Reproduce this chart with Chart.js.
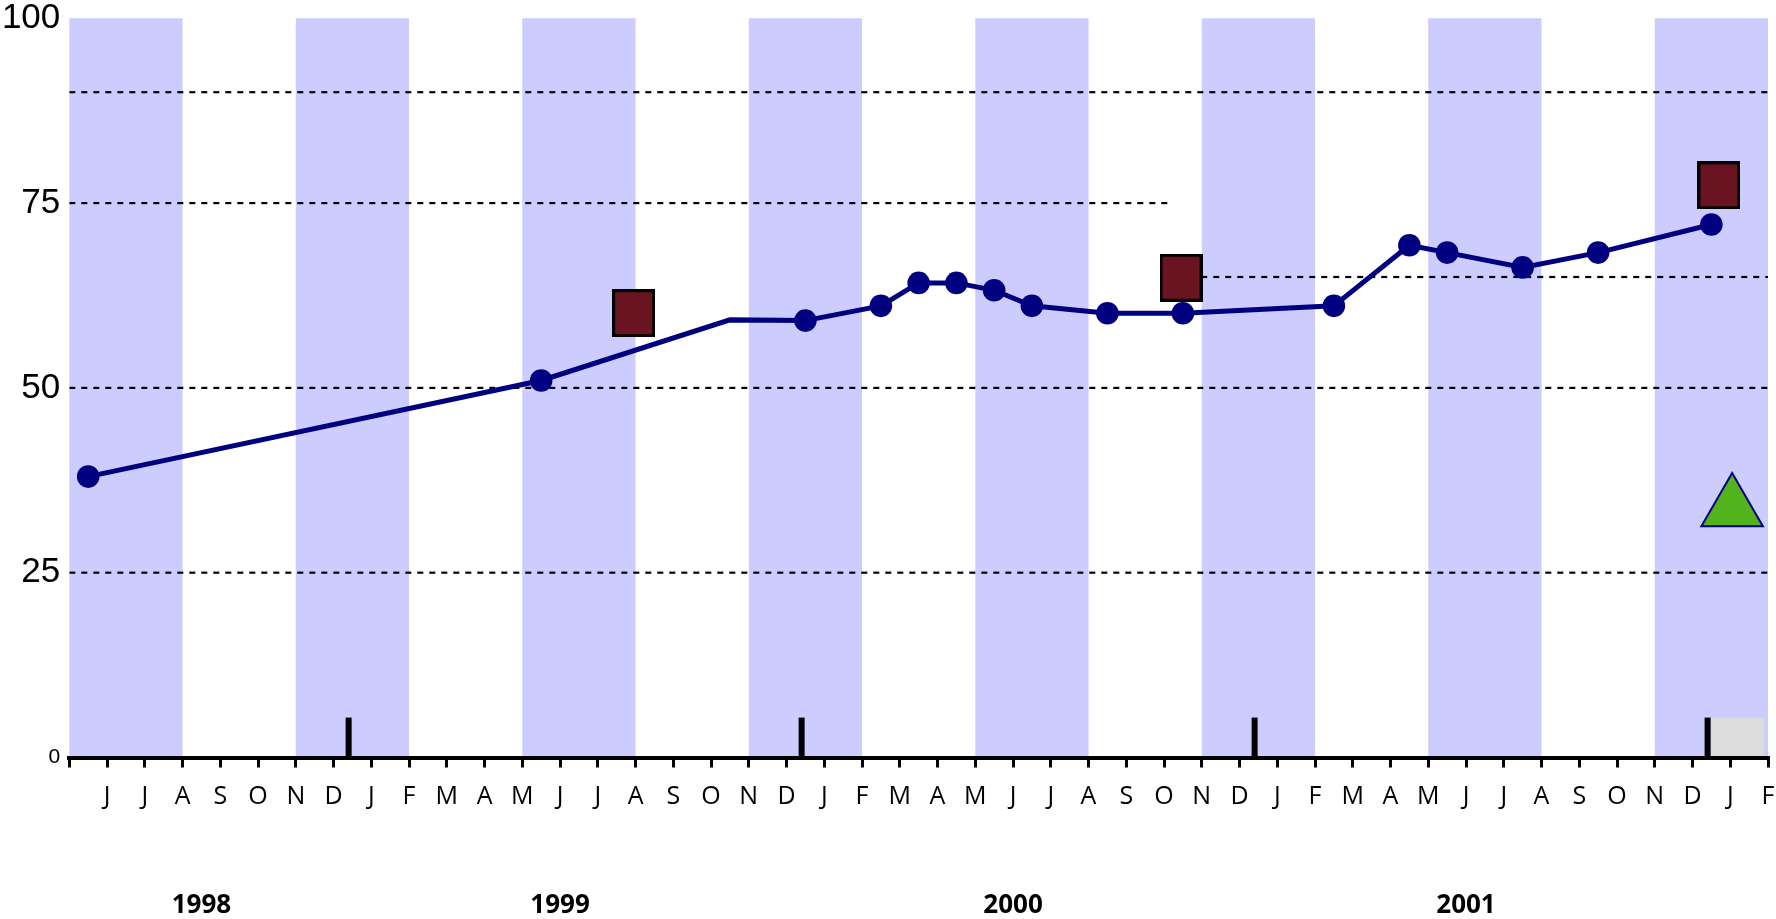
<!DOCTYPE html>
<html><head><meta charset="utf-8">
<script src="https://cdn.jsdelivr.net/npm/chart.js@4/dist/chart.umd.min.js"></script>
<style>html,body{margin:0;padding:0;background:#fff;overflow:hidden}</style>
</head><body>
<canvas id="c" width="1776" height="919"></canvas>
<script>
// ---- data ----
const monthLabels = ['', 'J','J','A','S','O','N','D',
  'J','F','M','A','M','J','J','A','S','O','N','D',
  'J','F','M','A','M','J','J','A','S','O','N','D',
  'J','F','M','A','M','J','J','A','S','O','N','D',
  'J','F'];
const yearLabels = ['1998','1999','2000','2001'];
const yearPositions = [3.5, 13, 25, 37];
const seriesX = [0.5, 12.5, 17.5, 19.5, 21.5, 22.5, 23.5, 24.5, 25.5, 27.5, 29.5, 33.5, 35.5, 36.5, 38.5, 40.5, 43.5];
const seriesY = [38, 51, 59.2, 59.1, 61.1, 64.2, 64.2, 63.2, 61.1, 60.1, 60.1, 61.1, 69.3, 68.3, 66.3, 68.3, 72.1];
const squareX = [14.95, 29.45, 43.7];
const squareY = [60.1, 64.9, 77.4];
const triangleX = [44.05];
const triangleY = [33.7];
const shadedBands = [[0,3],[6,9],[12,15],[18,21],[24,27],[30,33],[36,39],[42,45]];
const markerBarX = [7.4, 19.4, 31.4, 43.4];
const markerBarTop = 5.4;
const greyBlock = [43.5, 44.9];
const greyBlockTop = 5.4;
const refLevelsFull = [25, 50, 90];
const ref75 = {level: 75, from: 0, to: 29.15};
const ref65 = {level: 65, from: 29.35, to: 45};

// ---- build ----
const pts = (xs, ys) => xs.map((x, i) => ({x, y: ys[i]}));
function makeSquare(w, h, fill, border, bw) {
  const c = document.createElement('canvas');
  c.width = w; c.height = h;
  const g = c.getContext('2d');
  g.fillStyle = fill; g.fillRect(0, 0, w, h);
  g.strokeStyle = border; g.lineWidth = bw;
  g.strokeRect(bw / 2, bw / 2, w - bw, h - bw);
  return c;
}
const squareImg = makeSquare(43, 48, '#6B1421', '#000000', 3);

const refDatasets = [];
refLevelsFull.forEach(l => refDatasets.push({from: 0, to: 45, level: l}));
refDatasets.push(ref75, ref65);
const refSets = refDatasets.map(r => ({
  type: 'line',
  data: [{x: r.from, y: r.level}, {x: r.to, y: r.level}],
  borderColor: '#000', borderWidth: 2.2, borderDash: [6, 6],
  pointRadius: 0, order: 10, fill: false
}));

const bgPlugin = {
  id: 'bg',
  beforeDraw(chart) {
    const {ctx, scales: {x, y}} = chart;
    const yTop = y.getPixelForValue(100), yBot = y.getPixelForValue(0);
    ctx.save();
    ctx.fillStyle = '#CCCCFF';
    shadedBands.forEach(([s, e]) => {
      const x0 = x.getPixelForValue(s), x1 = x.getPixelForValue(e);
      ctx.fillRect(x0, yTop, x1 - x0, yBot - yTop);
    });
    ctx.fillStyle = '#DCDCDC';
    const gx0 = x.getPixelForValue(greyBlock[0]), gx1 = x.getPixelForValue(greyBlock[1]);
    const gy = y.getPixelForValue(greyBlockTop);
    ctx.fillRect(gx0, gy, gx1 - gx0, yBot - gy);
    ctx.fillStyle = '#000';
    markerBarX.forEach(v => {
      const px = x.getPixelForValue(v), py = y.getPixelForValue(markerBarTop);
      ctx.fillRect(px - 3, py, 6, yBot - py);
    });
    ctx.restore();
  }
};

new Chart(document.getElementById('c'), {
  type: 'line',
  data: {
    datasets: [
      {
        data: pts(seriesX, seriesY),
        borderColor: '#000080', backgroundColor: '#000080',
        borderWidth: 5, tension: 0,
        pointRadius: c => (c.dataIndex === 2 ? 0 : 11.3),
        pointBorderWidth: 0, pointBackgroundColor: '#000080',
        order: 2
      },
      {
        data: pts(squareX, squareY), showLine: false,
        pointStyle: squareImg, pointRadius: 22, order: 1
      },
      {
        data: pts(triangleX, triangleY), showLine: false,
        pointStyle: 'triangle', pointRadius: 35.5,
        pointBackgroundColor: '#52B31C', pointBorderColor: '#000080', pointBorderWidth: 2,
        order: 1
      },
      ...refSets
    ]
  },
  options: {
    responsive: false, animation: false, devicePixelRatio: 1,
    layout: {autoPadding: false, padding: {left: -7.1, right: 8, top: 0, bottom: -66.5}},
    plugins: {legend: {display: false}, tooltip: {enabled: false}},
    scales: {
      x: {
        type: 'linear', position: 'bottom', min: 0, max: 45, weight: 0,
        grid: {display: true, drawOnChartArea: false, drawTicks: true, tickLength: 10, color: '#000', lineWidth: 3},
        border: {display: true, color: '#000', width: 4},
        ticks: {
          stepSize: 1, autoSkip: false, maxRotation: 0, padding: 1.5,
          color: '#000', font: {family: '"Open Sans"', size: 25, lineHeight: 2.24},
          callback: v => monthLabels[v] ?? ''
        }
      },
      yr: {
        type: 'linear', position: 'bottom', min: 0, max: 45, weight: 1,
        grid: {display: false, drawTicks: false}, border: {display: false},
        afterBuildTicks: s => { s.ticks = yearPositions.map(v => ({value: v})); },
        ticks: {
          autoSkip: false, maxRotation: 0, padding: 66.5,
          color: '#000', font: {family: '"Open Sans"', size: 26, weight: 'bold', lineHeight: 1},
          callback: (v, i) => yearLabels[i]
        }
      },
      y: {
        type: 'linear', min: 0, max: 100,
        grid: {display: false, drawTicks: false}, border: {display: false},
        ticks: {
          stepSize: 25, padding: 9, color: '#000',
          font: c => (c.tick && c.tick.value === 0)
            ? {family: '"Liberation Sans"', size: 21, lineHeight: 0.53}
            : {family: '"Liberation Sans"', size: 35, lineHeight: 0.53}
        }
      }
    }
  },
  plugins: [bgPlugin]
});
</script>
</body></html>
